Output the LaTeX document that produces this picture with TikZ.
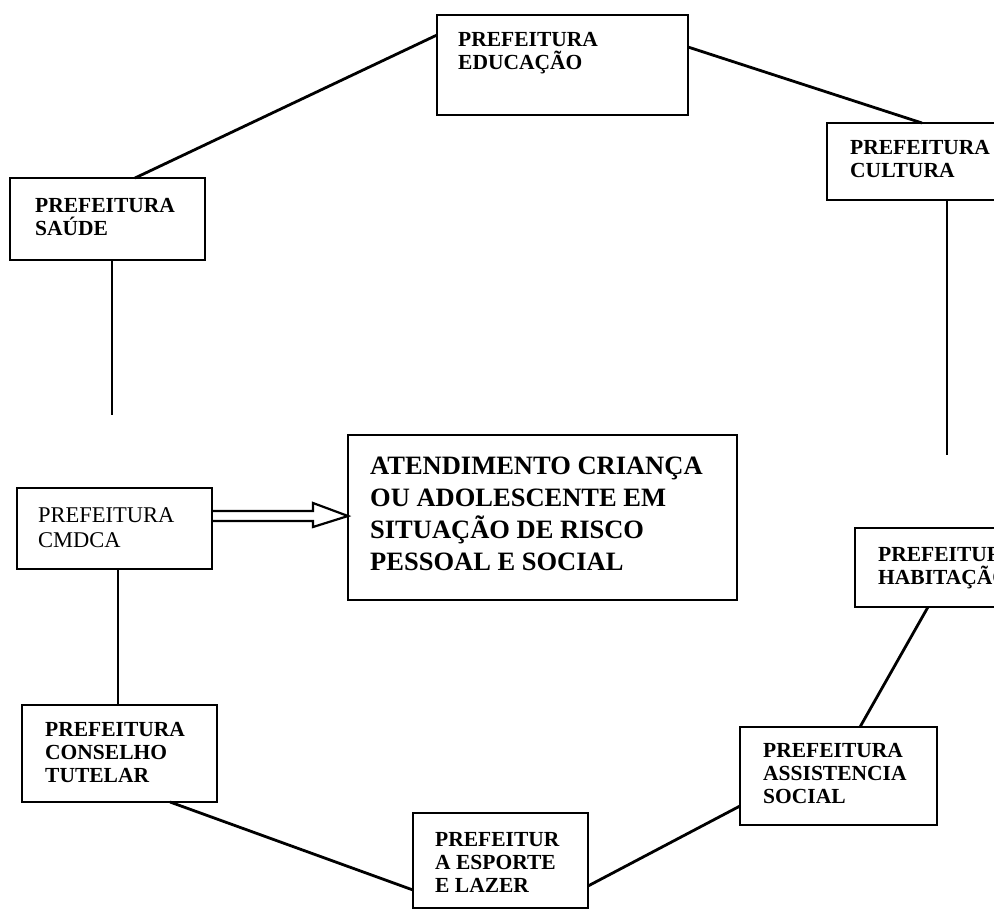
\documentclass[tikz,border=0pt]{standalone}
\usepackage{fontspec}
\setmainfont{Liberation Serif}
\usetikzlibrary{calc}
\begin{document}
\begin{tikzpicture}[x=1pt,y=-1pt,
  box/.style={draw, line width=2.8pt, inner sep=0pt, outer sep=0pt},
  lbl/.style={anchor=north west, align=left, inner sep=0pt, font=\fontsize{21.5}{23}\selectfont\bfseries},
  lblr/.style={anchor=north west, align=left, inner sep=0pt, font=\fontsize{22.5}{25}\selectfont},
  biglbl/.style={anchor=north west, align=left, inner sep=0pt, font=\fontsize{26.5}{32}\selectfont\bfseries},
  conn/.style={line width=2.8pt},
  hollow/.style={line width=2.2pt, line join=miter}]
\useasboundingbox (0,0) rectangle (994,910);
\clip (0,0) rectangle (994,910);
% boxes
\node[box, minimum width=251pt, minimum height=100pt] (edu) at (562.5,65) {};
\node[box, minimum width=183pt, minimum height=77pt] (cul) at (918.5,161.5) {};
\node[box, minimum width=195pt, minimum height=82pt] (sau) at (107.5,219) {};
\node[box, minimum width=195pt, minimum height=81pt] (cm) at (114.5,528.5) {};
\node[box, minimum width=389pt, minimum height=165pt] (big) at (542.5,517.5) {};
\node[box, minimum width=155pt, minimum height=79pt] (hab) at (932.5,567.5) {};
\node[box, minimum width=195pt, minimum height=97pt] (con) at (119.5,753.5) {};
\node[box, minimum width=175pt, minimum height=95pt] (esp) at (500.5,860.5) {};
\node[box, minimum width=197pt, minimum height=98pt] (ass) at (838.5,776) {};
% labels
\node[lbl] (tedu) at (458,32) {PREFEITURA\\EDUCAÇÃO};
\node[lbl] (tcul) at (850,140) {PREFEITURA\\CULTURA};
\node[lbl] (tsau) at (35,198) {PREFEITURA\\SAÚDE};
\node[lblr] (tcm) at (38,507) {PREFEITURA\\CMDCA};
\node[biglbl] (tbig) at (370,457) {ATENDIMENTO CRIANÇA\\OU ADOLESCENTE EM\\SITUAÇÃO DE RISCO\\PESSOAL E SOCIAL};
\node[lbl] (thab) at (878,547) {PREFEITURA\\HABITAÇÃO};
\node[lbl] (tcon) at (45,722) {PREFEITURA\\CONSELHO\\TUTELAR};
\node[lbl] (tesp) at (435,832) {PREFEITUR\\A ESPORTE\\E LAZER};
\node[lbl] (tass) at (763,743) {PREFEITURA\\ASSISTENCIA\\SOCIAL};
% free ends
\coordinate (c1) at (112,415);
\coordinate (c2) at (947,455);
% connectors
\draw[conn] ($(edu.north west)+(0,20)$) -- ($(sau.north west)+(125,0)$);
\draw[conn] ($(edu.north east)+(0,32)$) -- ($(cul.north west)+(95,0)$);
\draw[conn] ($(sau.south west)+(102,0)$) -- (c1);
\draw[conn] ($(cul.south west)+(120,0)$) -- (c2);
\draw[conn] ($(cm.south west)+(101,0)$) -- ($(con.north west)+(96,0)$);
\draw[conn] ($(con.south west)+(148,0)$) -- ($(esp.north west)+(0,77)$);
\draw[conn] ($(esp.north east)+(0,73)$) -- ($(ass.north west)+(0,79)$);
\draw[conn] ($(ass.north west)+(120,0)$) -- ($(hab.south west)+(73,0)$);
% hollow arrow
\draw[hollow] ($(cm.east)+(0,-17.5)$) -- ($(big.west)+(-35,-6.5)$) -- ($(big.west)+(-35,-14.5)$)
  -- ($(big.west)+(0,-1.5)$) -- ($(big.west)+(-35,9.5)$) -- ($(big.west)+(-35,3.5)$)
  -- ($(cm.east)+(0,-7.5)$);
\end{tikzpicture}
\end{document}
